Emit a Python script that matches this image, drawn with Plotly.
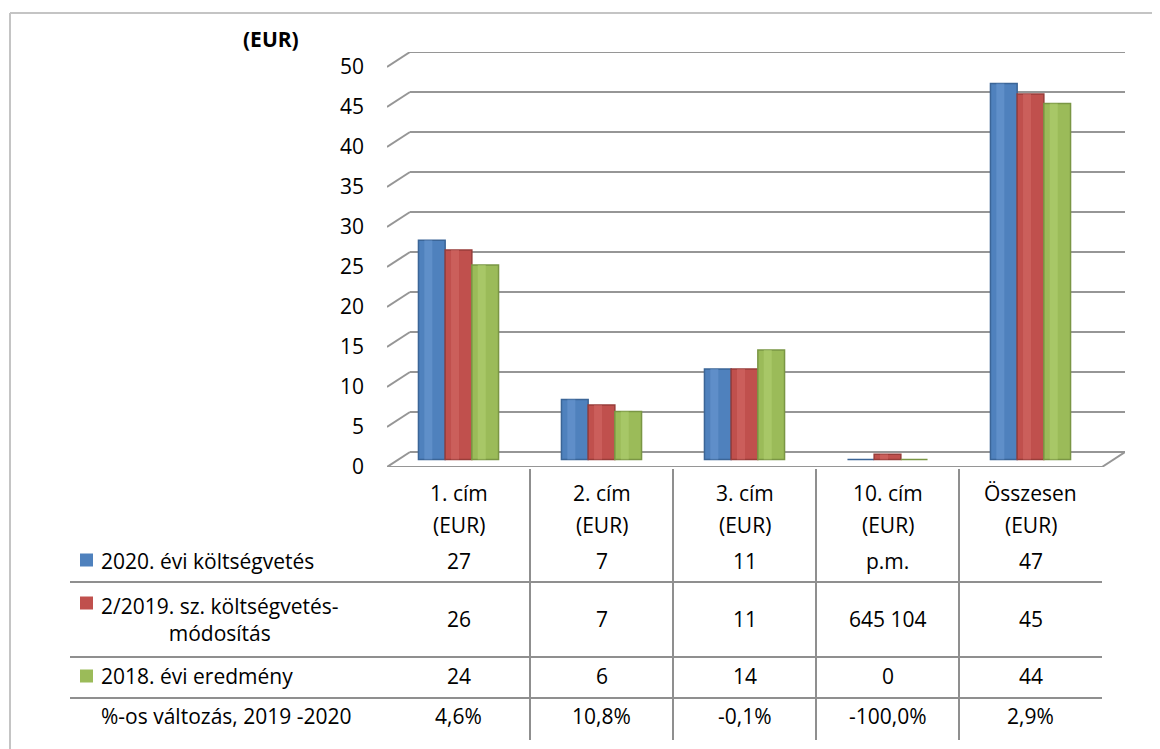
import plotly.graph_objects as go

# window size and body margin of the page that shows the figure
WIN_W, WIN_H, BODY = 1160, 749, 8
FW, FH = WIN_W - BODY, WIN_H - BODY

# ---------------- data ----------------
categories = ["1. cím", "2. cím", "3. cím", "10. cím", "Összesen"]
header_unit = ["(EUR)", "(EUR)", "(EUR)", "(EUR)", "(EUR)"]

series_names = ["2020. évi költségvetés",
                "2/2019. sz. költségvetés-<br>módosítás",
                "2018. évi eredmény"]
budget_2020 = [27.4, 7.5, 11.3, 0.0, 47.0]
amend_2019 = [26.2, 6.8, 11.3, 0.645104, 45.7]
result_2018 = [24.3, 6.0, 13.7, 0.0, 44.5]

table_2020 = ["27", "7", "11", "p.m.", "47"]
table_2019 = ["26", "7", "11", "645 104", "45"]
table_2018 = ["24", "6", "14", "0", "44"]
pct_label = "%-os változás, 2019 -2020"
pct_change = ["4,6%", "10,8%", "-0,1%", "-100,0%", "2,9%"]

y_ticks = [0, 5, 10, 15, 20, 25, 30, 35, 40, 45, 50]
y_title = "(EUR)"

colors = ["#4F81BD", "#C0504D", "#9BBB59"]
edge_colors = ["#3B6597", "#983D3A", "#7A9644"]
light_colors = ["#6D9AD3", "#D46B68", "#B2D173"]

# ---------------- layout helpers (page pixel -> paper) ----------------
FONT = "Open Sans"
FS = 21
def px(p):
    return (p - BODY) / FW
def py(p):
    return 1 - (p - BODY) / FH

X_LEFT, X_RIGHT = 387, 1102          # front plane of the plot
Y_ZERO, Y_TOP = 467, 67              # pixel rows for 0 and 50
DEPTH_X, DEPTH_Y = 23, 15            # pixel depth offset of the back wall
unit_px = (Y_ZERO - Y_TOP) / 50.0
col_px = (X_RIGHT - X_LEFT) / len(categories)
DX = DEPTH_X / col_px                # depth offset, category units
DY = DEPTH_Y / unit_px               # depth offset, value units
HALF = DY / 2
YMAX = 50 + DY

GROUP_W = 0.56
BW = GROUP_W / 3

fig = go.Figure()
xs = list(range(len(categories)))
for i, (name, vals) in enumerate(zip(series_names, [budget_2020, amend_2019, result_2018])):
    off = -GROUP_W / 2 + i * BW
    fig.add_trace(go.Bar(
        x=xs, y=vals, name=name.replace("<br>", " "), width=BW, offset=off,
        marker=dict(color=colors[i], line=dict(color=edge_colors[i], width=1.5)),
        yaxis="y2", showlegend=False, hoverinfo="skip",
    ))
    # cylinder highlight stripe
    fig.add_trace(go.Bar(
        x=xs, y=vals, width=BW * 0.3, offset=off + BW * 0.22,
        marker=dict(color=light_colors[i], line=dict(width=0)), opacity=0.55,
        yaxis="y2", showlegend=False, hoverinfo="skip",
    ))

shapes = []
grid_col = "#969696"
for t in y_ticks:
    shapes.append(dict(type="line", xref="x", yref="y", x0=-0.5, y0=t, x1=-0.5 + DX, y1=t + DY,
                       line=dict(color=grid_col, width=2), layer="below"))
    shapes.append(dict(type="line", xref="x", yref="y", x0=-0.5 + DX, y0=t + DY, x1=4.5 + DX, y1=t + DY,
                       line=dict(color=grid_col, width=2), layer="below"))
shapes.append(dict(type="line", xref="x", yref="y", x0=-0.5, y0=0, x1=4.5, y1=0,
                   line=dict(color=grid_col, width=2), layer="below"))
shapes.append(dict(type="line", xref="x", yref="y", x0=4.5, y0=0, x1=4.5 + DX, y1=DY,
                   line=dict(color=grid_col, width=2), layer="below"))

tab_col = "#8f8f8f"
for k in range(1, len(categories)):
    shapes.append(dict(type="line", xref="x", yref="paper", x0=k - 0.5, x1=k - 0.5,
                       y0=py(469), y1=py(740), line=dict(color=tab_col, width=2)))
for yy in [582, 657, 698]:
    shapes.append(dict(type="line", xref="paper", yref="paper", x0=px(70), x1=px(X_RIGHT),
                       y0=py(yy), y1=py(yy), line=dict(color=tab_col, width=2)))
for c, yc in zip(colors, [560, 603, 676]):
    shapes.append(dict(type="rect", xref="paper", yref="paper", x0=px(80), x1=px(93),
                       y0=py(yc + 6.5), y1=py(yc - 6.5), fillcolor=c, line=dict(width=0)))
shapes.append(dict(type="line", xref="paper", yref="paper", x0=px(10), x1=1, y0=py(13), y1=py(13),
                   line=dict(color="#c4c4c4", width=2)))
shapes.append(dict(type="line", xref="paper", yref="paper", x0=px(10), x1=px(10), y0=py(13), y1=0,
                   line=dict(color="#c4c4c4", width=2)))

ann = []
def txt(text, x, y, xref="paper", xanchor="center", bold=False, align="center"):
    ann.append(dict(text=f"<b>{text}</b>" if bold else text, x=x, y=y, xref=xref, yref="paper",
                    xanchor=xanchor, yanchor="middle", showarrow=False, align=align,
                    font=dict(family=FONT, size=FS, color="#000000")))

txt(y_title, px(271), py(39), bold=True)
for i, (h1, h2) in enumerate(zip(categories, header_unit)):
    txt(h1, i, py(493), xref="x")
    txt(h2, i, py(525), xref="x")
row_y = [561, 619, 676, 716]
for rows, yy in zip([table_2020, table_2019, table_2018, pct_change], row_y):
    for i, v in enumerate(rows):
        txt(v, i, py(yy), xref="x")
for name, yy in zip(series_names + [pct_label], row_y):
    txt(name, px(99), py(yy), xanchor="left", align="center")

y_dom = [py(Y_ZERO), py(Y_TOP - DEPTH_Y)]
fig.update_layout(
    width=FW, height=FH, margin=dict(l=0, r=0, t=0, b=0, pad=0, autoexpand=False),
    paper_bgcolor="white", plot_bgcolor="rgba(0,0,0,0)",
    barmode="overlay",
    shapes=shapes, annotations=ann,
    xaxis=dict(domain=[px(X_LEFT), px(X_RIGHT + DEPTH_X)], range=[-0.5, 4.5 + DX], showgrid=False,
               zeroline=False, showticklabels=False, showline=False, fixedrange=True,
               automargin=False),
    yaxis=dict(domain=y_dom, range=[0, YMAX], tickvals=y_ticks,
               showgrid=False, zeroline=False, showline=False, ticks="",
               ticklabelstandoff=22, automargin=False,
               tickfont=dict(family=FONT, size=FS, color="#000000")),
    yaxis2=dict(domain=y_dom, range=[-HALF, YMAX - HALF], overlaying="y",
                visible=False, showgrid=False, zeroline=False, automargin=False),
    font=dict(family=FONT, size=FS, color="#000000"),
)

fig.write_html("out.html")
